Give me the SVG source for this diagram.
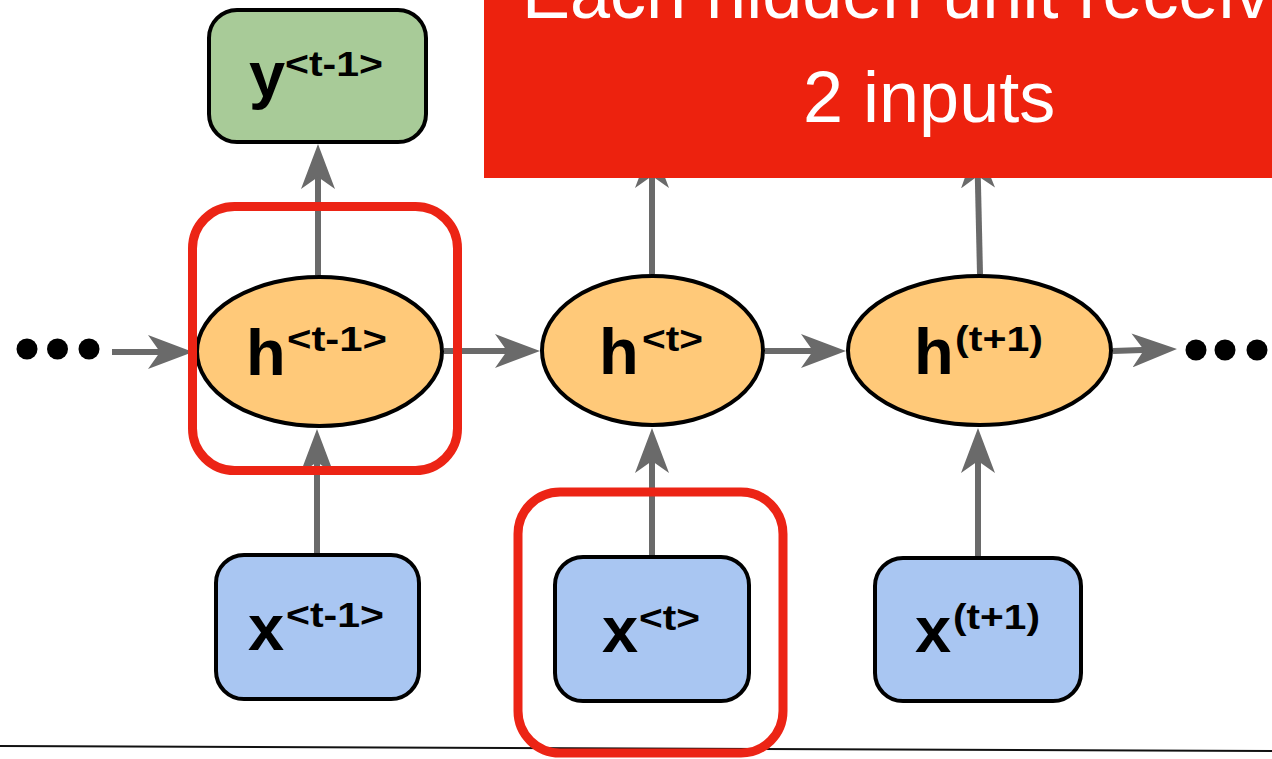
<svg xmlns="http://www.w3.org/2000/svg" width="1272" height="759" viewBox="0 0 1272 759">
  <style>
    .edge { fill: none; stroke: #6a6a6a; stroke-width: 6; marker-end: url(#head); }
    .hidden { fill: #ffc979; stroke: #000; stroke-width: 4; }
    .input { fill: #a9c6f2; stroke: #000; stroke-width: 4; }
    .output { fill: #a8cb98; stroke: #000; stroke-width: 4; }
    .main { font-family: "Liberation Sans", Arial, sans-serif; font-weight: bold; font-size: 65px; fill: #000; }
    .sup { font-family: "Liberation Sans", Arial, sans-serif; font-weight: bold; font-size: 35px; fill: #000; }
    .dot { fill: #000; }
    .mark { fill: none; stroke: #ec2415; stroke-width: 9; }
    .banner-text { font-family: "Liberation Sans", Arial, sans-serif; font-size: 72px; fill: #fff; }
  </style>
  <defs>
    <marker id="head" viewBox="0 -17 45 34" refX="25" refY="0" markerWidth="45" markerHeight="34" markerUnits="userSpaceOnUse" orient="auto">
      <path d="M45,0 L0,-17 L12,0 L0,17 Z" fill="#6a6a6a"/>
    </marker>
  </defs>

  <rect width="1272" height="759" fill="#fff"/>

  <!-- separator rule along the bottom -->
  <line x1="0" y1="746" x2="1272" y2="751" stroke="#111" stroke-width="2"/>

  <g id="connectors">
    <path class="edge" d="M112,352 L173,352"/>
    <path class="edge" d="M444,351 L520,351"/>
    <path class="edge" d="M765,351 L826,351"/>
    <path class="edge" d="M1113,351 L1157,349.6"/>
    <path class="edge" d="M317,553 L317,449"/>
    <path class="edge" d="M318,275 L318,164"/>
    <path class="edge" d="M652,555 L652,448"/>
    <path class="edge" d="M652,274 L652,163"/>
    <path class="edge" d="M978,556 L978,448"/>
    <path class="edge" d="M980,274 L977.5,163"/>
  </g>

  <g id="dots-left">
    <circle class="dot" cx="27" cy="349" r="10.5"/>
    <circle class="dot" cx="57.5" cy="349" r="10.5"/>
    <circle class="dot" cx="89" cy="349" r="10.5"/>
  </g>
  <g id="dots-right">
    <circle class="dot" cx="1196" cy="350" r="10.5"/>
    <circle class="dot" cx="1225" cy="350" r="10.5"/>
    <circle class="dot" cx="1257" cy="350" r="10.5"/>
  </g>

  <g id="y-prev">
    <rect class="output" x="209" y="10" width="217" height="132" rx="28"/>
    <text class="main" x="249" y="97">y</text>
    <text class="sup" x="285" y="76" textLength="98" lengthAdjust="spacingAndGlyphs">&lt;t-1&gt;</text>
  </g>

  <g id="h-prev">
    <ellipse class="hidden" cx="319.5" cy="351.5" rx="122.5" ry="74.5"/>
    <text class="main" x="246" y="375">h</text>
    <text class="sup" x="287" y="351" textLength="100" lengthAdjust="spacingAndGlyphs">&lt;t-1&gt;</text>
  </g>

  <g id="h-curr">
    <ellipse class="hidden" cx="652.5" cy="350.5" rx="110.5" ry="74.5"/>
    <text class="main" x="599" y="374">h</text>
    <text class="sup" x="642" y="351" textLength="61" lengthAdjust="spacingAndGlyphs">&lt;t&gt;</text>
  </g>

  <g id="h-next">
    <ellipse class="hidden" cx="979.5" cy="350.5" rx="131.5" ry="74.5"/>
    <text class="main" x="914" y="374">h</text>
    <text class="sup" x="955" y="351" textLength="88" lengthAdjust="spacingAndGlyphs">(t+1)</text>
  </g>

  <g id="x-prev">
    <rect class="input" x="216" y="555" width="203" height="144" rx="28"/>
    <text class="main" x="248" y="650">x</text>
    <text class="sup" x="286" y="627" textLength="98" lengthAdjust="spacingAndGlyphs">&lt;t-1&gt;</text>
  </g>

  <g id="x-curr">
    <rect class="input" x="555" y="557" width="194" height="144" rx="28"/>
    <text class="main" x="602" y="652">x</text>
    <text class="sup" x="639" y="630" textLength="61" lengthAdjust="spacingAndGlyphs">&lt;t&gt;</text>
  </g>

  <g id="x-next">
    <rect class="input" x="875" y="558" width="206" height="143" rx="28"/>
    <text class="main" x="915" y="652">x</text>
    <text class="sup" x="953" y="629" textLength="87" lengthAdjust="spacingAndGlyphs">(t+1)</text>
  </g>

  <!-- red outlines around the two inputs of a hidden unit -->
  <g id="highlights">
    <rect class="mark" x="192.5" y="206.5" width="265" height="264" rx="42"/>
    <rect class="mark" x="518" y="492" width="265" height="261" rx="42"/>
  </g>

  <g id="banner">
    <rect x="484" y="0" width="800" height="178" fill="#ed220e"/>
    <text class="banner-text" x="522" y="18">Each hidden unit receives</text>
    <text class="banner-text" x="803" y="122">2 inputs</text>
  </g>
</svg>
